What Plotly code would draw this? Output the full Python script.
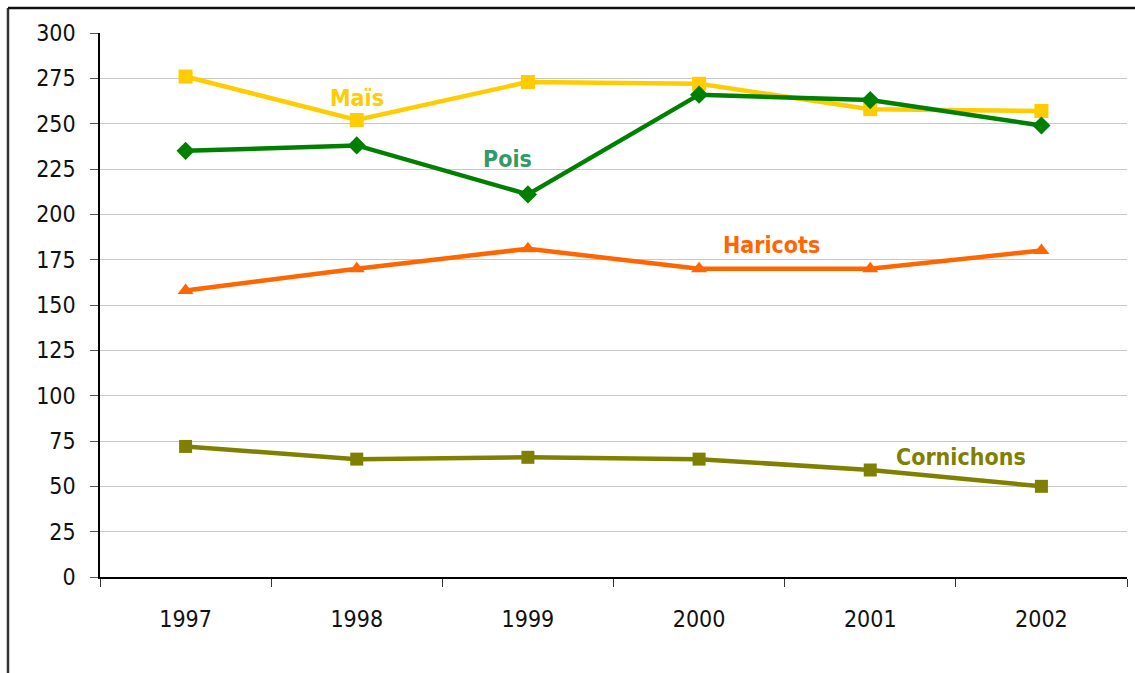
import plotly.graph_objects as go

# Annual values per vegetable
years = ["1997", "1998", "1999", "2000", "2001", "2002"]
mais = [276, 252, 273, 272, 258, 257]
pois = [235, 238, 211, 266, 263, 249]
haricots = [158, 170, 181, 170, 170, 180]
cornichons = [72, 65, 66, 65, 59, 50]
y_ticks = list(range(0, 301, 25))

series = [
    ("Maïs", mais, "#FFCC00", "square", 14),
    ("Pois", pois, "#008000", "diamond", 14),
    ("Haricots", haricots, "#FF6600", "triangle-up", 14),
    ("Cornichons", cornichons, "#808000", "square", 13),
]

fig = go.Figure()
for name, vals, color, symbol, size in series:
    fig.add_trace(go.Scatter(
        x=years, y=vals, name=name, mode="lines+markers",
        line=dict(color=color, width=4.5),
        marker=dict(symbol=symbol, size=size, color=color),
        showlegend=False,
    ))

# Series names written next to their lines (x given as category index)
labels = [
    ("Maïs", 1, 264, "#FFCC00", 0),
    ("Pois", 2, 230.5, "#339966", -20),
    ("Haricots", 3, 183, "#FF6600", 72),
    ("Cornichons", 5, 66, "#808000", -80),
]
for text, xi, y, color, dx in labels:
    fig.add_annotation(
        x=xi, y=y, xref="x", yref="y", text="<b>" + text + "</b>",
        showarrow=False, xshift=dx,
        font=dict(family="DejaVu Sans Condensed, DejaVu Sans", size=23, color=color),
    )

# Outer frame
fig.add_shape(type="line", xref="paper", yref="paper",
              x0=-0.0896, x1=-0.0896, y0=-0.3, y1=1.046,
              line=dict(color="#333333", width=2.5))
fig.add_shape(type="line", xref="paper", yref="paper",
              x0=-0.0896, x1=1.1, y0=1.046, y1=1.046,
              line=dict(color="#111111", width=2.5))

fig.update_layout(
    width=1135, height=673,
    margin=dict(l=100, r=8, t=33, b=96),
    paper_bgcolor="white", plot_bgcolor="white",
    font=dict(family="DejaVu Sans Condensed, DejaVu Sans", size=23, color="#111111"),
    xaxis=dict(
        type="category", tickson="boundaries", ticks="outside", ticklen=8,
        tickcolor="#333333", showgrid=False, showline=True, linecolor="black",
        linewidth=1.5, tickfont=dict(size=23), range=[-0.5, 5.5],
        ticklabelstandoff=21,
    ),
    yaxis=dict(
        range=[0, 300], tickvals=y_ticks, ticks="outside", ticklen=8,
        tickcolor="#555555", showline=True, linecolor="black", linewidth=1.5,
        gridcolor="#C8C8C8", gridwidth=1, zeroline=False, tickfont=dict(size=23),
        ticklabelstandoff=10,
    ),
)

fig.write_html("out.html")
